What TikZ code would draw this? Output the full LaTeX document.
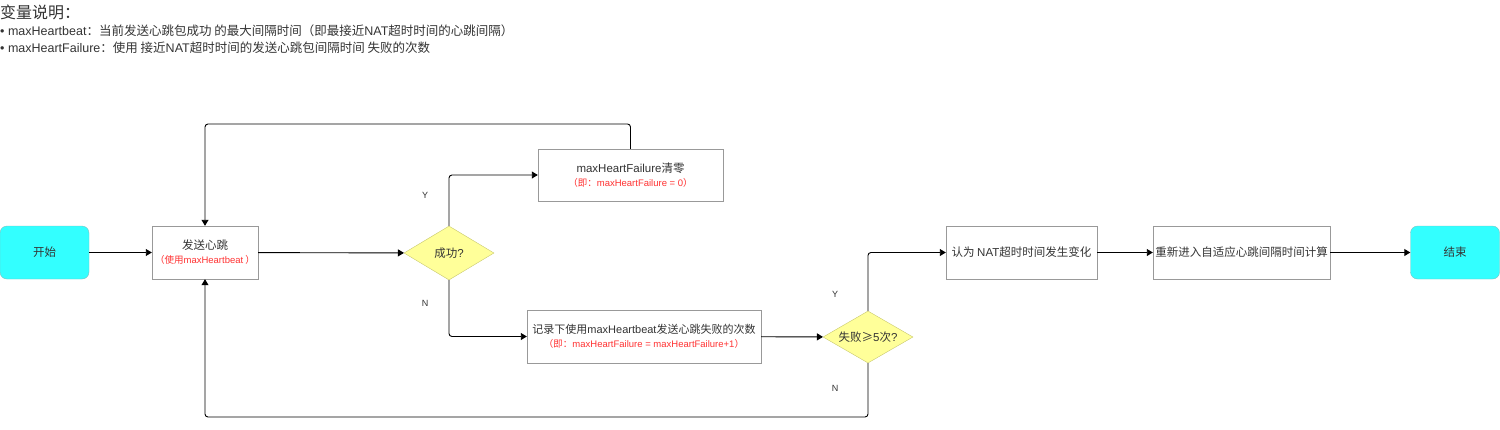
\documentclass[tikz,border=0pt]{standalone}
\usepackage{fontspec}
\setmainfont{Noto Sans CJK SC}
\newfontfamily\latinfont{Liberation Sans}
\usepackage{tikz}
\usetikzlibrary{shapes.geometric, arrows.meta}
\definecolor{txtgray}{HTML}{333333}
\definecolor{boxline}{HTML}{999999}
\definecolor{termfill}{HTML}{33FFFF}
\definecolor{termline}{HTML}{7FBFBF}
\definecolor{decfill}{HTML}{FFFF99}
\definecolor{decline}{HTML}{C8C86E}
\definecolor{notered}{HTML}{FF3333}
\newcommand{\en}[1]{{\latinfont #1}}
\newcommand{\hint}[1]{{\color{notered}\fontsize{9.5}{11}\selectfont #1}}
\newcommand{\bul}{\en{•\ }}

\begin{document}
\begin{tikzpicture}[x=1pt, y=-1pt,
    font=\fontsize{11.5}{15}\selectfont, text=txtgray,
    flow/.style={-{Triangle[length=6pt, width=7pt]}, line width=0.9pt, rounded corners=3pt},
    term/.style={draw=termline, fill=termfill, rounded corners=7pt, minimum width=89pt, minimum height=53pt, inner sep=0pt},
    stepbox/.style={draw=boxline, fill=white, minimum height=53pt, inner sep=1pt, align=center},
    decision/.style={diamond, draw=decline, fill=decfill, minimum width=90pt, minimum height=54pt, inner sep=0pt},
    yn/.style={font=\latinfont\fontsize{9}{10}\selectfont},
    legendline/.style={anchor=west, inner sep=0pt, font=\fontsize{12.5}{14}\selectfont}]
    % page is 1500 x 429, y runs downward
    \useasboundingbox (0,0) rectangle (1500,429);
    \def\loopy{124}
    \def\backy{417}

    % Legend at the top
    \node[anchor=west, inner sep=0pt, font=\fontsize{16}{18}\selectfont] (legend) at (0,12) {变量说明：};
    \node[legendline] (legendA) at (0,31) {\bul\en{maxHeartbeat}：当前发送心跳包成功 的最大间隔时间（即最接近\en{NAT}超时时间的心跳间隔）};
    \node[legendline] (legendB) at (0,48) {\bul\en{maxHeartFailure}：使用 接近\en{NAT}超时时间的发送心跳包间隔时间 失败的次数};

    % Main row
    \node[term] (start) at (44.5,252.5) {开始};
    \node[stepbox, minimum width=106pt] (send) at (205,252.5) {发送心跳\\[-1pt]\hint{（使用\en{maxHeartbeat} ）}};
    \node[decision] (ok) at (449,253) {\makebox[0pt]{成功\en{?}}};
    \node[stepbox, minimum width=185pt, minimum height=52pt] (reset) at (630.5,175) {\en{maxHeartFailure}清零\\[-1pt]\hint{（即：\en{maxHeartFailure = 0}）}};
    \node[stepbox, minimum width=234pt, font=\fontsize{11}{15}\selectfont] (count) at (644,336.5) {记录下使用\en{maxHeartbeat}发送心跳失败的次数\\[-1pt]\hint{（即：\en{maxHeartFailure = maxHeartFailure+1}）}};
    \node[decision, minimum height=52pt] (five) at (868,337) {\makebox[0pt]{失败≥\en{5}次\en{?}}};
    \node[stepbox, minimum width=151pt] (change) at (1021.5,252.5) {认为 \en{NAT}超时时间发生变化};
    \node[stepbox, minimum width=177pt] (again) at (1241.5,252.5) {重新进入自适应心跳间隔时间计算};
    \node[term] (stop) at (1455,252.5) {结束};

    % Branch labels
    \node[yn] (okY) at (425,195) {Y};
    \node[yn] (okN) at (425,303) {N};
    \node[yn] (fiveY) at (835,294) {Y};
    \node[yn] (fiveN) at (835,388) {N};

    % Connectors
    \draw[flow] (start) -- (send);
    \draw[flow] (send) -- (ok);
    \draw[flow] (ok.north) |- (reset.west);
    \draw[flow] (ok.south) |- (count.west);
    \draw[flow] (reset.north) -- (reset.north |- 0,\loopy) -| (send.north);
    \draw[flow] (count) -- (five);
    \draw[flow] (five.north) |- (change.west);
    \draw[flow] (five.south) -- (five.south |- 0,\backy) -| (send.south);
    \draw[flow] (change) -- (again);
    \draw[flow] (again) -- (stop);
\end{tikzpicture}
\end{document}
